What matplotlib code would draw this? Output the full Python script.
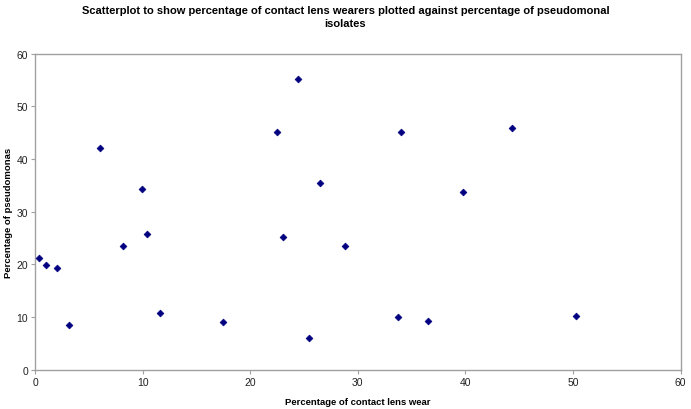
import matplotlib
matplotlib.use("Agg")
import matplotlib.pyplot as plt

plt.rcParams['font.family'] = ['Liberation Sans', 'DejaVu Sans']

contact_lens_wear = [0.34, 1.05, 2.0, 3.2, 6.07, 8.2, 9.9, 10.4, 11.6, 17.5,
                     22.5, 23.0, 24.4, 25.5, 26.5, 28.8, 33.7, 34.0, 36.5,
                     39.75, 44.3, 50.3]
pseudomonas = [21.2, 19.9, 19.25, 8.55, 42.0, 23.5, 34.4, 25.8, 10.8, 9.05,
               45.1, 25.1, 55.1, 5.95, 35.4, 23.4, 9.95, 45.1, 9.3,
               33.7, 45.9, 10.2]
x_ticks = [0, 10, 20, 30, 40, 50, 60]
y_ticks = [0, 10, 20, 30, 40, 50, 60]

fig = plt.figure(figsize=(6.91, 4.10), dpi=100)
ax = fig.add_axes([0.0507, 0.0959, 0.9344, 0.7707])
ax.scatter(contact_lens_wear, pseudomonas, marker='D', s=12, color='#000080',
           edgecolors='#000080', linewidths=0.5, zorder=3)
ax.set_xlim(0, 60)
ax.set_ylim(0, 60)
ax.set_xticks(x_ticks)
ax.set_yticks(y_ticks)
for s in ax.spines.values():
    s.set_color('#a0a0a0')
    s.set_linewidth(1.0)
ax.tick_params(direction='out', length=3, width=0.8, color='#a0a0a0',
               labelsize=7.5, labelcolor='#222222', pad=2)
ax.set_xlabel('Percentage of contact lens wear', fontsize=6.8, fontweight='bold')
ax.xaxis.set_label_coords(0.5, -0.085)
ax.set_ylabel('Percentage of pseudomonas', fontsize=6.8, fontweight='bold')
ax.yaxis.set_label_coords(-0.034, 0.5)
fig.text(0.5, 0.985, 'Scatterplot to show percentage of contact lens wearers plotted against percentage of pseudomonal\nisolates',
         ha='center', va='top', fontsize=8.0, fontweight='bold', linespacing=1.4)
fig.savefig('out.png', dpi=100)
